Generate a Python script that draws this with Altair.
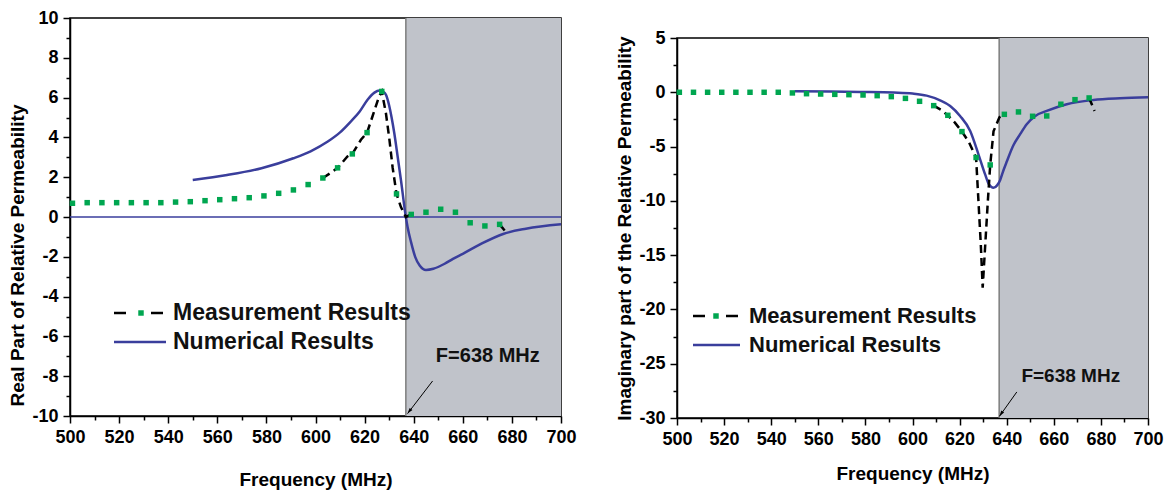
import altair as alt
import pandas as pd

FONT = "Liberation Sans"
BLUE = "#3a3e9c"
GREEN = "#00a650"
SHADE = "#c0c3ca"
EDGE = "#7d7d7d"

# ---------------- data ----------------
x_tick_values = [500, 510, 520, 530, 540, 550, 560, 570, 580, 590, 600,
                 610, 620, 630, 640, 650, 660, 670, 680, 690, 700]
re_tick_values = [-10, -9, -8, -7, -6, -5, -4, -3, -2, -1, 0,
                  1, 2, 3, 4, 5, 6, 7, 8, 9, 10]
im_tick_values = [-30, -27.5, -25, -22.5, -20, -17.5, -15, -12.5, -10, -7.5,
                  -5, -2.5, 0, 2.5, 5]

shade_range = [636.8, 700]

meas_freq = [501, 507, 513, 519, 525, 531, 537, 543, 549, 555, 561, 567, 573, 579, 585,
             591, 597, 603, 609, 615, 621, 627, 633, 639, 645, 651, 657, 663, 669, 675]
re_meas = [0.69, 0.72, 0.72, 0.72, 0.72, 0.72, 0.72, 0.75, 0.77, 0.82, 0.87, 0.92, 0.97, 1.06, 1.19,
           1.36, 1.63, 1.96, 2.47, 3.17, 4.24, 6.31, 1.16, 0.13, 0.24, 0.39, 0.24, -0.29, -0.45, -0.37]
im_meas = [0.0, 0.0, 0.0, 0.0, 0.0, 0.0, 0.0, 0.0, -0.06, -0.13, -0.16, -0.19, -0.22, -0.25, -0.31,
           -0.40, -0.56, -0.83, -1.23, -2.12, -3.62, -6.01, -6.69, -2.03, -1.81, -2.21, -2.18, -1.10, -0.68, -0.52]

re_trace_freq = [603, 607, 609, 613, 615, 618.5, 621, 623.2, 625.9, 627, 628.7, 630.1, 631.4,
                 633, 634.8, 636.8, 639, 675, 677.1]
re_trace_val = [1.96, 2.28, 2.47, 3.04, 3.17, 3.88, 4.24, 5.05, 6.06, 6.31, 5.2, 3.9, 2.5,
                1.16, 0.5, 0.0, 0.13, -0.37, -0.69]
re_trace_seg = [1, 1, 1, 1, 1, 1, 1, 1, 1, 1, 1, 1, 1, 1, 1, 1, 1, 2, 2]

im_trace_freq = [609, 612, 615, 618, 621, 624, 627, 628, 629, 629.8, 630.9, 632.0, 633,
                 634.4, 636.9, 639, 675, 677.3]
im_trace_val = [-1.23, -1.6, -2.12, -2.8, -3.62, -4.6, -6.01, -10.0, -14.0, -18.0, -14.0, -10.0, -6.69,
                -3.6, -2.3, -2.03, -0.52, -1.72]
im_trace_seg = [1, 1, 1, 1, 1, 1, 1, 1, 1, 1, 1, 1, 1, 1, 1, 1, 2, 2]

re_num_freq = [550, 564, 578, 591, 598, 605, 610, 614.4, 618, 621.2, 624, 626, 627.5, 628.7,
               630, 631, 632.1, 633.5, 634.8, 636.8, 637.5, 639, 640.6, 642.5, 645, 648,
               652.6, 656, 660, 667.6, 676.7, 685.7, 700]
re_num_val = [1.86, 2.11, 2.45, 2.95, 3.3, 3.79, 4.25, 4.80, 5.3, 5.89, 6.25, 6.36, 6.3, 6.14,
              5.6, 5.0, 4.21, 3.0, 1.86, 0.0, -0.5, -1.3, -2.0, -2.45, -2.66, -2.6,
              -2.35, -2.1, -1.85, -1.34, -0.84, -0.59, -0.37]

im_num_freq = [550, 565, 578, 592, 600, 606, 611.7, 616, 620.2, 624.5, 628, 630.8, 632.5, 634.4,
               636, 637.2, 638.6, 640, 642.8, 645.7, 648.5, 652, 657, 665.5, 676.8, 688.1, 700]
im_num_val = [0.09, 0.07, 0.03, -0.03, -0.12, -0.31, -0.74, -1.26, -2.18, -3.56, -5.71, -7.54, -8.5, -8.8,
              -8.55, -8.1, -7.2, -6.4, -4.9, -3.86, -2.94, -2.2, -1.72, -1.10, -0.71, -0.55, -0.46]

legend_labels = ["Measurement Results", "Numerical Results"]
note_text = "F=638 MHz"
re_note = {"tx": 670.2, "ty": -7.0, "ax": 647.7, "ay": -8.24, "bx": 637.5, "by": -9.88}
im_note = {"tx": 667.2, "ty": -26.1, "ax": 644.3, "ay": -27.6, "bx": 636.9, "by": -29.85}


def make_panel(meas_vals, tr_f, tr_v, tr_s, num_f, num_v, ydom, yvals, ymod, ytitle,
               w, h, zero_line, leg, note, title_y, x_title_pad, arrow_angle):
    xs = alt.Scale(domain=[500, 700], nice=False, zero=False)
    ys = alt.Scale(domain=ydom, nice=False, zero=False)
    x_axis = alt.Axis(
        values=x_tick_values, title="Frequency (MHz)", titlePadding=x_title_pad,
        labelExpr="datum.value % 20 === 0 ? '' + datum.value : ''",
        tickSize={"condition": {"test": "datum.value % 20 === 0", "value": 7}, "value": 4},
    )
    yargs = dict(
        values=yvals, title=ytitle,
        labelExpr=f"datum.value % {ymod} === 0 ? '' + datum.value : ''",
        tickSize={"condition": {"test": f"datum.value % {ymod} === 0", "value": 7}, "value": 4},
    )
    if title_y is not None:
        yargs["titleY"] = title_y
    y_axis = alt.Axis(**yargs)

    X = lambda f: alt.X(f, type="quantitative", scale=xs, axis=x_axis)
    Y = lambda f: alt.Y(f, type="quantitative", scale=ys, axis=y_axis)

    shade_df = pd.DataFrame({"x0": [shade_range[0]], "x1": [shade_range[1]]})
    shade = alt.Chart(shade_df).mark_rect(fill=SHADE).encode(
        x=X("x0"), x2="x1", y=alt.value(0), y2=alt.value(h))
    edge = alt.Chart(shade_df).mark_rule(color=EDGE, strokeWidth=1.5).encode(x=X("x0"))

    layers = [shade, edge]
    if zero_line:
        z = alt.Chart(pd.DataFrame({"y": [0]})).mark_rule(color=BLUE, strokeWidth=1.3).encode(
            y=Y("y"))
        layers.append(z)

    num_df = pd.DataFrame({"f": num_f, "v": num_v})
    layers.append(alt.Chart(num_df).mark_line(color=BLUE, strokeWidth=2.5, interpolate="monotone")
                  .encode(x=X("f"), y=Y("v")))
    tr_df = pd.DataFrame({"f": tr_f, "v": tr_v, "s": tr_s})
    layers.append(alt.Chart(tr_df).mark_line(color="black", strokeWidth=2.5, strokeDash=[8, 5])
                  .encode(x=X("f"), y=Y("v"), detail="s:N"))
    m_df = pd.DataFrame({"f": meas_freq, "v": meas_vals})
    layers.append(alt.Chart(m_df).mark_square(color=GREEN, size=30, opacity=1)
                  .encode(x=X("f"), y=Y("v")))

    # legend
    one = pd.DataFrame({"k": [0]})
    r1, r2 = leg["rows"]
    for a, b in leg["dashes"]:
        layers.append(alt.Chart(one).mark_rule(color="black", strokeWidth=2.5).encode(
            x=alt.value(a), x2=alt.value(b), y=alt.value(r1)))
    layers.append(alt.Chart(one).mark_square(color=GREEN, size=30, opacity=1).encode(
        x=alt.value(leg["sq"]), y=alt.value(r1)))
    layers.append(alt.Chart(one).mark_rule(color=BLUE, strokeWidth=2.5).encode(
        x=alt.value(leg["line"][0]), x2=alt.value(leg["line"][1]), y=alt.value(r2)))
    for lab, ry in zip(legend_labels, [r1, r2]):
        layers.append(alt.Chart(pd.DataFrame({"t": [lab]})).mark_text(
            align="left", baseline="middle", font=FONT, fontSize=leg["fs"], fontWeight="bold",
            color="#111111").encode(x=alt.value(leg["tx"]), y=alt.value(ry), text="t:N"))

    # annotation
    n_df = pd.DataFrame({"t": [note_text], "tx": [note["tx"]], "ty": [note["ty"]],
                         "ax": [note["ax"]], "ay": [note["ay"]], "bx": [note["bx"]], "by": [note["by"]]})
    layers.append(alt.Chart(n_df).mark_text(font=FONT, fontSize=note["fs"], fontWeight="bold",
                                            color="#111111", baseline="middle")
                  .encode(x=X("tx"), y=Y("ty"), text="t:N"))
    layers.append(alt.Chart(n_df).mark_rule(color="black", strokeWidth=1)
                  .encode(x=X("ax"), y=Y("ay"), x2="bx", y2="by"))
    layers.append(alt.Chart(n_df).mark_point(
        shape="M0,0 L-0.45,1.5 L0.45,1.5 Z", filled=True, color="black", opacity=1,
        size=60, angle=arrow_angle).encode(x=X("bx"), y=Y("by")))

    return alt.layer(*layers).properties(width=w, height=h)


left = make_panel(
    re_meas, re_trace_freq, re_trace_val, re_trace_seg, re_num_freq, re_num_val,
    [-10, 10], re_tick_values, 2, "Real Part of Relative Permeability",
    491, 398, True,
    {"rows": (295, 324), "dashes": [(44, 56), (81, 93)], "sq": 71, "line": (44, 96),
     "tx": 103, "fs": 23},
    dict(re_note, fs=20), 237, 24, 217)

right = make_panel(
    im_meas, im_trace_freq, im_trace_val, im_trace_seg, im_num_freq, im_num_val,
    [-30, 5], im_tick_values, 5, "Imaginary part of the Relative Permeability",
    471, 380, False,
    {"rows": (278, 307), "dashes": [(16, 28), (49, 61)], "sq": 39, "line": (16, 63),
     "tx": 72, "fs": 22},
    dict(im_note, fs=19), None, 16, 215)

spacer = alt.Chart(pd.DataFrame({"k": [0]})).mark_point(opacity=0).encode(
    x=alt.value(0), y=alt.value(0)
).properties(width=471, height=9, view=alt.ViewBackground(stroke="transparent"))

right_col = alt.vconcat(spacer, right, spacing=0)

chart = alt.hconcat(left, right_col, spacing=38).properties(
    padding={"left": 0, "right": 2, "top": 0, "bottom": 0}
).configure_axis(
    labelFont=FONT, labelFontSize=18, labelFontWeight="bold", labelColor="black",
    titleFont=FONT, titleFontSize=19, titleFontWeight="bold", titleColor="black",
    tickColor="black", tickWidth=1.5, domainColor="black", domainWidth=1.5,
    grid=False, labelFlush=False, labelOverlap=False, labelPadding=5, labelBound=False,
).configure_axisY(titlePadding=4).configure_view(stroke="black", strokeWidth=1.5)

chart.save("out.html", embed_options={"renderer": "svg", "actions": False})
